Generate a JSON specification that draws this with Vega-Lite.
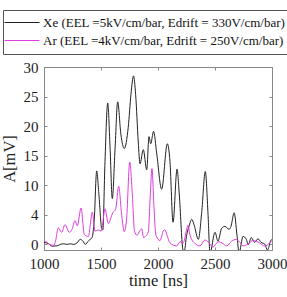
{
  "$schema": "https://vega.github.io/schema/vega-lite/v6.json",
  "width": 228,
  "height": 183,
  "autosize": "none",
  "padding": {"left": 44, "top": 67, "right": 15, "bottom": 47},
  "config": {
    "view": {"stroke": "#888888", "strokeWidth": 1},
    "font": "Liberation Serif",
    "legend": {"labelFont": "Liberation Serif", "titleFont": "Liberation Serif"},
    "axis": {"labelFont": "Liberation Serif", "titleFont": "Liberation Serif", "labelFontSize": 15, "titleFontSize": 16.5, "titleFontWeight": "normal", "labelColor": "#222", "titleColor": "#222", "grid": false, "domain": false, "tickColor": "#888888", "tickSize": -3}
  },
  "datasets": {
    "xe": [
      {"t": 1000, "A": 0.3}, {"t": 1041, "A": 0.05}, {"t": 1070, "A": -0.35}, {"t": 1114, "A": -0.3}, {"t": 1143, "A": -0.05},
      {"t": 1173, "A": 0.05}, {"t": 1202, "A": -0.05}, {"t": 1231, "A": 0.05}, {"t": 1261, "A": -0.05}, {"t": 1289, "A": 0.2},
      {"t": 1318, "A": 0.8}, {"t": 1342, "A": 0.5}, {"t": 1362, "A": -0.05}, {"t": 1392, "A": 0.6}, {"t": 1421, "A": 1.1},
      {"t": 1441, "A": 4.2}, {"t": 1462, "A": 12.4}, {"t": 1482, "A": 8.3}, {"t": 1506, "A": 2.6}, {"t": 1516, "A": 2.4},
      {"t": 1535, "A": 14}, {"t": 1559, "A": 23.9}, {"t": 1579, "A": 16.6}, {"t": 1599, "A": 7.7}, {"t": 1623, "A": 16},
      {"t": 1646, "A": 24.1}, {"t": 1675, "A": 18.5}, {"t": 1704, "A": 16.2}, {"t": 1739, "A": 19.8}, {"t": 1763, "A": 25.4},
      {"t": 1785, "A": 28.5}, {"t": 1804, "A": 25.3}, {"t": 1827, "A": 17.3}, {"t": 1842, "A": 13.6}, {"t": 1871, "A": 16.0},
      {"t": 1901, "A": 12.6}, {"t": 1921, "A": 18.2}, {"t": 1936, "A": 17.0}, {"t": 1961, "A": 19.1}, {"t": 1989, "A": 15.3},
      {"t": 2032, "A": 9.3}, {"t": 2082, "A": 17.0}, {"t": 2105, "A": 14}, {"t": 2132, "A": 3.7}, {"t": 2167, "A": 12.7},
      {"t": 2187, "A": 8.3}, {"t": 2217, "A": -0.8}, {"t": 2228, "A": -1.5}, {"t": 2252, "A": 1.6}, {"t": 2272, "A": 3.0},
      {"t": 2296, "A": 4.2}, {"t": 2316, "A": 3.3}, {"t": 2354, "A": 0.8}, {"t": 2383, "A": 5.3}, {"t": 2415, "A": 12.3},
      {"t": 2439, "A": 5}, {"t": 2456, "A": -1.5}, {"t": 2500, "A": 2.0}, {"t": 2526, "A": 0.5}, {"t": 2559, "A": 2.7},
      {"t": 2588, "A": 3.0}, {"t": 2623, "A": 2.5}, {"t": 2640, "A": 3}, {"t": 2668, "A": 5.3}, {"t": 2693, "A": 1.5},
      {"t": 2711, "A": -1.5}, {"t": 2746, "A": 1.3}, {"t": 2775, "A": 0.8}, {"t": 2792, "A": -0.1}, {"t": 2818, "A": 1.1},
      {"t": 2848, "A": 0.3}, {"t": 2877, "A": 0.9}, {"t": 2904, "A": 0.3}, {"t": 2936, "A": 0}, {"t": 2961, "A": -1.0},
      {"t": 2989, "A": 0.6}, {"t": 3000, "A": 0.8}
    ],
    "ar": [
      {"t": 1000, "A": 0.5}, {"t": 1026, "A": 0.3}, {"t": 1053, "A": -0.1}, {"t": 1085, "A": -0.2}, {"t": 1101, "A": 0.5},
      {"t": 1125, "A": 2.75}, {"t": 1155, "A": 2.0}, {"t": 1184, "A": 3.3}, {"t": 1222, "A": 2.0}, {"t": 1246, "A": 2.5},
      {"t": 1272, "A": 4.0}, {"t": 1292, "A": 3.1}, {"t": 1325, "A": 6.1}, {"t": 1354, "A": 1.6}, {"t": 1389, "A": 1.3},
      {"t": 1424, "A": 5.4}, {"t": 1447, "A": 2.2}, {"t": 1476, "A": 2.4}, {"t": 1503, "A": 2.2}, {"t": 1535, "A": 6.0},
      {"t": 1564, "A": 3.5}, {"t": 1603, "A": 5.3}, {"t": 1629, "A": 6.0}, {"t": 1655, "A": 9.8}, {"t": 1682, "A": 4.8},
      {"t": 1704, "A": 2.1}, {"t": 1725, "A": 4.4}, {"t": 1752, "A": 13.9}, {"t": 1775, "A": 8.3}, {"t": 1794, "A": 2.2},
      {"t": 1816, "A": 1.5}, {"t": 1842, "A": 2.3}, {"t": 1857, "A": 2.6}, {"t": 1873, "A": 1.1}, {"t": 1890, "A": 1.3},
      {"t": 1915, "A": 2.1}, {"t": 1934, "A": 9}, {"t": 1947, "A": 12.8}, {"t": 1965, "A": 6.1}, {"t": 1982, "A": 1.5},
      {"t": 2018, "A": 0.6}, {"t": 2048, "A": 2.3}, {"t": 2061, "A": 2.4}, {"t": 2079, "A": 1.5}, {"t": 2105, "A": 0.2},
      {"t": 2164, "A": -0.3}, {"t": 2193, "A": 0.4}, {"t": 2222, "A": 0.2}, {"t": 2246, "A": 2.0}, {"t": 2263, "A": 3.2},
      {"t": 2281, "A": 1.5}, {"t": 2325, "A": 0.1}, {"t": 2368, "A": -0.3}, {"t": 2412, "A": 0.7}, {"t": 2439, "A": 0.4},
      {"t": 2482, "A": -0.5}, {"t": 2529, "A": 0.4}, {"t": 2561, "A": 0.2}, {"t": 2603, "A": -0.3}, {"t": 2646, "A": 0.5},
      {"t": 2687, "A": 0.8}, {"t": 2719, "A": 0.3}, {"t": 2746, "A": -0.3}, {"t": 2789, "A": 0}, {"t": 2833, "A": 0.6},
      {"t": 2892, "A": 0.2}, {"t": 2936, "A": -0.35}, {"t": 2980, "A": 0.2}, {"t": 3000, "A": 0.6}
    ]
  },
  "layer": [
    {
      "data": {"name": "xe"},
      "transform": [{"calculate": "'Xe (EEL =5kV/cm/bar, Edrift = 330V/cm/bar)'", "as": "series"}],
      "mark": {"type": "line", "interpolate": "monotone", "strokeWidth": 1, "clip": true},
      "encoding": {
        "x": {"field": "t", "type": "quantitative", "scale": {"domain": [1000, 3000], "nice": false},
          "axis": {"values": [1000, 1500, 2000, 2500, 3000], "format": "d", "title": "time [ns]", "labelPadding": 9, "titlePadding": 1, "labelFlush": false}},
        "y": {"field": "A", "type": "quantitative", "scale": {"domain": [-1, 30], "nice": false, "zero": false},
          "axis": {"values": [0, 5, 10, 15, 20, 25, 30], "title": "A[mV]", "labelPadding": 9, "titlePadding": 6, "labelExpr": "datum.value == 5 ? '4' : datum.label"}},
        "color": {"field": "series", "type": "nominal",
          "scale": {"domain": ["Xe (EEL =5kV/cm/bar, Edrift = 330V/cm/bar)", "Ar (EEL =4kV/cm/bar,  Edrift = 250V/cm/bar)"], "range": ["#222222", "#e03ce0"]},
          "legend": {"orient": "none", "legendX": -41, "legendY": -57, "title": null, "padding": 6, "rowPadding": 4,
            "symbolType": "M-2.2,0H4.8", "symbolSize": 100, "symbolStrokeWidth": 1, "labelOffset": 21,
            "labelFont": "Liberation Serif", "labelFontSize": 13, "labelLimit": 0, "labelColor": "#111",
            "strokeColor": "#555555", "fillColor": "white"}}
      }
    },
    {
      "data": {"name": "ar"},
      "transform": [{"calculate": "'Ar (EEL =4kV/cm/bar,  Edrift = 250V/cm/bar)'", "as": "series"}],
      "mark": {"type": "line", "interpolate": "monotone", "strokeWidth": 1, "clip": true},
      "encoding": {
        "x": {"field": "t", "type": "quantitative", "axis": {"orient": "top", "values": [1000, 1500, 2000, 2500, 3000], "labels": false, "title": null}},
        "y": {"field": "A", "type": "quantitative", "axis": {"orient": "right", "values": [0, 5, 10, 15, 20, 25, 30], "labels": false, "title": null}},
        "color": {"field": "series", "type": "nominal"}
      }
    }
  ],
  "resolve": {"axis": {"x": "independent", "y": "independent"}}
}
